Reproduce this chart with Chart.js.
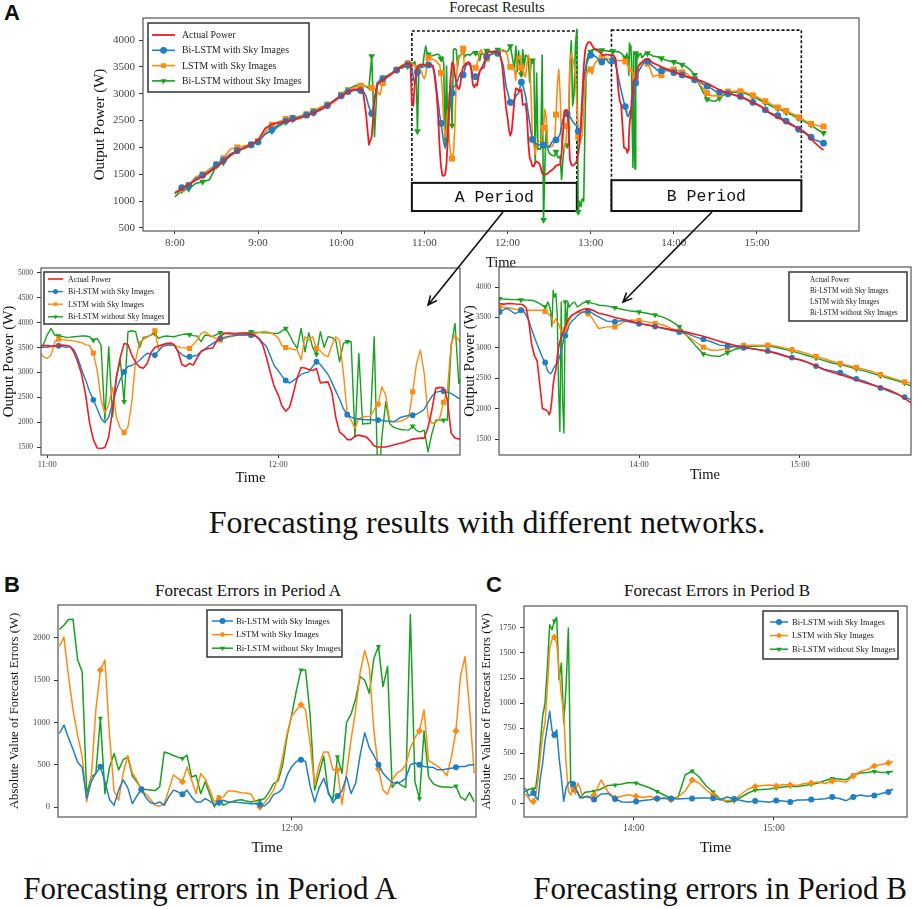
<!DOCTYPE html>
<html>
<head>
<meta charset="utf-8">
<script src="https://cdn.jsdelivr.net/npm/chart.js@4.4.1/dist/chart.umd.min.js"></script>
<style>
  html, body { margin: 0; padding: 0; background: #fff; overflow: hidden; }
  body { width: 913px; height: 909px; position: relative; font-family: 'Liberation Serif', 'Times New Roman', serif; }
  canvas { position: absolute; }
  .t { position: absolute; white-space: nowrap; color: #111; line-height: 1; }
  .c { transform: translateX(-50%); }
  .lab { position: absolute; font-family: 'Liberation Sans', Arial, sans-serif; font-weight: bold; font-size: 22px; line-height: 22px; color: #111; }
  svg { position: absolute; left: 0; top: 0; }
</style>
</head>
<body>
<div class="lab" style="left:4px;top:2px">A</div>
<div class="lab" style="left:4px;top:574px">B</div>
<div class="lab" style="left:486px;top:574px">C</div>
<div class="t c" style="left:497px;top:0px;font-size:14.5px">Forecast Results</div>
<div class="t c" style="left:487px;top:506px;font-size:32px">Forecasting results with different networks.</div>
<div class="t c" style="left:248px;top:582px;font-size:17px">Forecast Errors in Period A</div>
<div class="t c" style="left:717px;top:582px;font-size:17px">Forecast Errors in Period B</div>
<div class="t c" style="left:210px;top:873px;font-size:31px">Forecasting errors in Period A</div>
<div class="t c" style="left:720px;top:873px;font-size:31px">Forecasting errors in Period B</div>

<canvas id="top"></canvas>
<canvas id="midL"></canvas>
<canvas id="midR"></canvas>
<canvas id="errA"></canvas>
<canvas id="errB"></canvas>
<svg id="arrows" width="913" height="909"></svg>

<script>
// ---- time axis of the power forecasts ----
const times = [
  '8:00','8:05','8:10','8:15','8:20','8:25','8:30','8:35','8:40','8:45','8:50','8:55',
  '9:00','9:05','9:10','9:15','9:20','9:25','9:30','9:35','9:40','9:45','9:50','9:55',
  '10:00','10:05','10:10',
  '10:12','10:14','10:16','10:18','10:20','10:22','10:24','10:26','10:28','10:30',
  '10:32','10:34','10:36','10:38','10:40','10:42','10:44','10:46','10:48','10:50',
  '10:51','10:52','10:53','10:54','10:55','10:56','10:57','10:58','10:59',
  '11:00','11:01','11:02','11:03','11:04','11:05','11:06','11:07','11:08','11:09',
  '11:10','11:11','11:12','11:13','11:14','11:15','11:16','11:17','11:18','11:19',
  '11:20','11:21','11:22','11:23','11:24','11:25','11:26','11:27','11:28','11:29',
  '11:30','11:31','11:32','11:33','11:34','11:35','11:36','11:37','11:38','11:39',
  '11:40','11:41','11:42','11:43','11:44','11:45','11:46','11:47','11:48','11:49',
  '11:50','11:51','11:52','11:53','11:54','11:55','11:56','11:57','11:58','11:59',
  '12:00','12:01','12:02','12:03','12:04','12:05','12:06','12:07','12:08','12:09',
  '12:10','12:11','12:12','12:13','12:14','12:15','12:16','12:17','12:18','12:19',
  '12:20','12:21','12:22','12:23','12:24','12:25','12:26','12:27','12:28','12:29',
  '12:30','12:31','12:32','12:33','12:34','12:35','12:36','12:37','12:38','12:39',
  '12:40','12:41','12:42','12:43','12:44','12:45','12:46','12:47',
  '12:48','12:49','12:50','12:51','12:52','12:53','12:54','12:55','12:56','12:57',
  '12:58','12:59','13:00','13:01','13:02','13:03','13:04','13:05','13:06','13:07',
  '13:08','13:09','13:10',
  '13:11','13:12','13:13','13:14','13:15','13:16','13:17','13:18','13:19','13:20',
  '13:21','13:22','13:23','13:24',
  '13:25','13:25:30','13:26','13:26:30','13:27','13:27:30','13:28','13:28:30','13:29','13:29:30',
  '13:30','13:30:30','13:31','13:31:30','13:32','13:32:30','13:33','13:33:30','13:34',
  '13:35','13:36','13:37','13:38','13:39','13:40','13:41','13:42','13:43','13:44','13:45',
  '13:48','13:51','13:54','13:57',
  '14:00','14:03','14:06','14:09','14:12','14:15','14:18','14:21','14:24','14:27',
  '14:30','14:33','14:36','14:39','14:42','14:45','14:48','14:51','14:54','14:57',
  '15:00','15:03','15:06','15:09','15:12','15:15','15:18','15:21','15:24','15:27',
  '15:30','15:33','15:36','15:39','15:42','15:45','15:48'
];

// ---- output power (W) ----
const actualPower = [
  1150,1230,1310,1390,1460,1540,1640,1740,1850,1930,1990,2060,
  2130,2350,2430,2460,2480,2510,2545,2590,2640,2700,2770,2870,
  2950,3040,3080,
  3085,3080,3000,2600,2050,2200,2900,3160,3220,3260,
  3290,3320,3360,3400,3440,3480,3520,3540,3560,3550,
  2800,2780,3150,3400,3500,3530,3540,3540,3540,
  3540,3530,3530,3540,3550,3540,3520,3400,3200,2950,
  2550,2000,1650,1480,1470,1490,1700,2250,2900,3300,
  3580,3560,3350,3200,3110,3085,3180,3400,3500,3530,
  3560,3580,3590,3560,3420,3160,3120,3180,3150,3300,
  3420,3460,3480,3490,3620,3720,3780,3790,3785,3780,
  3790,3785,3780,3770,3750,3680,3560,3300,3000,2720,
  2560,2330,2220,2300,2580,2900,3100,3090,3060,3040,
  3080,2790,2800,2810,2600,2100,1800,1740,1650,1650,
  1720,1740,1720,1700,1620,1520,1500,1500,1500,1520,
  1540,1560,1580,1600,1630,1660,1670,1680,1680,1900,
  2250,2680,2700,2690,2450,1780,1680,1660,
  1680,1700,1750,1900,2080,2500,3000,3500,3800,3900,
  3950,3960,3950,3900,3860,3830,3810,3800,3790,3760,
  3730,3720,3720,
  3727,3727,3725,3720,3716,3716,3700,3650,3400,3050,
  2870,2790,2400,2000,
  1985,1970,1953,1900,1950,2144,2400,2550,2635,2850,
  3000,3100,3180,3236,3280,3350,3400,3454,3490,
  3540,3563,3590,3615,3630,3645,3640,3630,3615,3590,3570,
  3540,3500,3470,3440,
  3400,3380,3350,3325,3300,3280,3255,3225,3190,3150,
  3110,3070,3040,3010,2990,2965,2940,2910,2870,2830,
  2800,2760,2700,2640,2600,2560,2515,2470,2430,2390,
  2350,2310,2250,2170,2080,2010,1950
];
const biLstmSky = [
  1140,1250,1290,1420,1480,1560,1680,1760,1880,1940,2000,2050,
  2100,2240,2330,2430,2490,2540,2560,2600,2650,2720,2780,2880,
  2960,3040,3060,
  3070,3060,3050,2950,2750,2630,2850,3200,3250,3280,
  3300,3330,3370,3410,3440,3470,3510,3520,3540,3520,
  3500,3300,3193,3250,3400,3480,3500,3504,3504,
  3504,3520,3530,3537,3520,3505,3520,3450,3280,3050,
  2850,2620,2450,2270,2080,1990,2100,2380,2650,2860,
  3010,3120,3140,3190,3240,3320,3385,3370,3350,3440,
  3520,3550,3551,3550,3430,3360,3320,3316,3330,3349,
  3420,3470,3530,3580,3630,3685,3705,3725,3735,3745,
  3752,3752,3752,3752,3730,3695,3600,3520,3330,3140,
  3040,2930,2840,2785,2840,2890,2960,2990,3010,3120,
  3215,3160,3060,2960,2800,2630,2460,2270,2150,2100,
  2074,2065,2055,2050,2048,2045,2042,2035,2025,2015,
  2007,2050,2100,2120,2135,2140,2160,2200,2260,2400,
  2520,2600,2620,2625,2600,2578,2530,2480,
  2450,2420,2400,2300,2250,2350,2800,3200,3450,3550,
  3620,3680,3720,3740,3720,3700,3680,3660,3620,3590,
  3590,3610,3640,
  3645,3620,3580,3565,3590,3618,3600,3530,3440,3300,
  3180,3060,2950,2840,
  2760,2679,2620,2590,2575,2600,2650,2690,2720,2744,
  2800,2870,2950,3050,3150,3200,3250,3300,3380,
  3440,3480,3530,3563,3590,3600,3607,3590,3560,3530,3509,
  3440,3430,3450,3420,
  3395,3375,3350,3318,3290,3260,3236,3180,3140,3100,
  3045,3030,3017,3000,2985,2970,2950,2920,2880,2840,
  2810,2760,2700,2650,2620,2590,2540,2490,2450,2400,
  2340,2290,2240,2190,2140,2110,2080
];
const lstmSky = [
  1160,1220,1300,1450,1500,1600,1680,1800,1970,2000,2030,2050,
  2120,2280,2420,2480,2530,2550,2580,2620,2680,2750,2800,2850,
  2980,3060,3120,
  3140,3150,3150,3140,3130,3110,3100,3050,2980,3200,
  3280,3340,3380,3420,3450,3490,3530,3560,3570,3560,
  3560,3540,3520,3500,3480,3460,3440,3416,3316,
  3282,3349,3620,3671,3660,3651,3645,3630,3618,3600,
  3555,3545,3390,3047,2450,2190,2350,2700,2100,1880,
  1793,1900,2400,3250,3600,3665,3710,3760,3839,3450,
  3551,3551,3551,3540,3517,3500,3490,3484,3560,3651,
  3780,3819,3760,3718,3680,3651,3680,3705,3720,3740,
  3752,3752,3752,3752,3780,3800,3819,3819,3800,3760,
  3700,3540,3500,3484,3460,3450,3250,3718,3651,3718,
  3484,3430,3350,3316,3550,3718,3640,2980,2155,2041,
  1873,2074,2100,2115,2121,2250,2363,2712,2544,2041,
  2007,2010,2021,2060,2108,2611,3182,3450,2980,2108,
  1974,2000,2074,2400,2611,3584,3752,3651,
  3550,3300,2800,2200,2076,2150,2260,2700,3193,3350,
  3450,3500,3450,3367,3500,3560,3600,3620,3640,3660,
  3672,3670,3665,
  3661,3655,3645,3635,3629,3625,3620,3618,3618,3618,
  3618,3618,3618,3618,
  3600,3590,3570,3540,3520,3480,3400,3430,3481,3430,
  3400,3330,3263,3270,3280,3300,3345,3400,3454,
  3530,3563,3580,3590,3585,3570,3560,3520,3454,3380,3318,
  3345,3345,3420,3460,
  3450,3427,3400,3380,3320,3275,3200,3100,3010,2960,
  2965,2990,3030,3040,3045,3045,3045,3030,3000,2970,
  2940,2900,2860,2820,2780,2744,2710,2680,2646,2610,
  2560,2520,2480,2440,2417,2400,2390
];
const biLstmNoSky = [
  1080,1200,1230,1330,1360,1400,1660,1720,1850,1950,1980,2050,
  2120,2260,2300,2400,2470,2520,2580,2620,2640,2730,2780,2870,
  2990,3080,3150,
  3160,3150,3150,3130,3100,3700,2200,3200,3250,3300,
  3320,3350,3380,3410,3440,3470,3480,3500,3510,3560,
  3580,3550,3600,3500,2300,3400,3550,3484,3551,
  3752,3886,3752,3732,3720,3705,3710,3718,3725,3732,
  3732,3718,3651,3685,3551,2041,3517,2108,2913,3249,
  2410,3819,3839,3819,3500,3705,3718,3750,3785,3685,
  3720,3732,3725,3718,3740,3760,3772,3760,3740,3732,
  3618,3752,3740,3718,3760,3799,3790,3780,3775,3772,
  3780,3790,3800,3819,3810,3805,3799,3795,3790,3785,
  3785,3832,3886,3752,3600,3484,3886,3416,3799,3504,
  3363,3819,3504,3718,3705,3651,3215,3584,3618,3618,
  1700,3383,1960,1974,1974,3718,650,1700,2410,1974,
  1900,1870,1853,1845,1840,1920,1830,1806,1840,1404,
  1773,2041,2041,2041,2041,3517,3987,2779,
  3000,3900,4200,800,1000,900,1050,1000,2600,3600,
  3700,3750,3780,3820,3826,3830,3830,3826,3820,3815,
  3809,3805,3800,
  3800,3795,3793,3793,3790,3790,3788,3785,3783,3782,
  3770,3750,3727,3700,
  3672,3700,3754,3700,3618,3345,3945,3836,3891,3563,
  2362,1625,3754,2144,1598,3754,3345,3754,3672,
  3727,3754,3672,3700,3738,3754,3754,3740,3727,3720,3700,
  3690,3660,3630,3605,
  3590,3570,3540,3505,3440,3350,3190,3040,2900,2870,
  2860,2920,2980,3010,3025,3028,3028,3010,2980,2945,
  2910,2870,2830,2790,2750,2720,2690,2650,2620,2580,
  2540,2500,2460,2420,2362,2310,2270
];

// ---- absolute forecast errors in period A (W) ----
const errTimesA = [
  '11:09','11:10','11:11','11:12','11:13','11:14','11:15','11:16','11:17','11:18',
  '11:19','11:20','11:21','11:22','11:23','11:24','11:25','11:26','11:27','11:28',
  '11:29','11:30','11:31','11:32','11:33','11:34','11:35','11:36','11:37','11:38',
  '11:39','11:40','11:41','11:42','11:43','11:44','11:45','11:46','11:47','11:48',
  '11:49','11:50','11:51','11:52','11:53','11:54','11:55','11:56','11:57','11:58',
  '11:59','12:00','12:01','12:02','12:03','12:04','12:05','12:06','12:07','12:08',
  '12:09','12:10','12:11','12:12','12:13','12:14','12:15','12:16','12:17','12:18',
  '12:19','12:20','12:21','12:22','12:23','12:24','12:25','12:26','12:27','12:28',
  '12:29','12:30','12:31','12:32','12:33','12:34','12:35','12:36','12:37','12:38',
  '12:39','12:40'
];
const errABiSky = [
  870,970,820,680,530,470,100,300,400,475,
  300,90,20,200,320,230,40,130,210,110,
  50,40,60,20,120,200,180,150,200,120,
  60,60,100,70,30,50,80,60,60,55,
  50,45,40,40,30,15,60,150,170,220,
  380,480,540,560,540,250,60,230,340,180,
  50,130,190,360,160,280,620,880,700,610,
  500,400,340,290,280,300,340,500,520,500,
  480,470,470,440,440,450,460,470,480,480,
  500,500
];
const errALstmSky = [
  1900,2010,1550,1150,850,600,60,350,1150,1620,
  1740,850,190,80,400,610,400,320,200,150,
  90,20,10,40,200,380,340,300,470,320,
  160,396,330,200,60,99,120,190,190,180,
  170,165,155,60,0,50,120,200,350,600,
  880,1080,1148,1210,1150,750,260,500,650,650,
  440,440,30,400,800,1150,1600,1850,1650,900,
  450,200,150,320,400,430,500,700,820,900,
  1150,550,515,480,440,370,590,900,1550,1780,
  1150,400
];
const errABiNoSky = [
  2100,2150,2218,2220,1742,1600,158,356,396,1049,
  158,470,634,440,560,594,370,297,215,206,
  200,195,238,650,634,610,590,574,614,356,
  376,158,300,150,0,119,20,50,65,80,
  85,70,60,70,79,100,180,277,310,500,
  850,1100,1380,1620,1620,1100,200,400,600,158,
  90,594,400,1000,1100,1280,1544,1500,1346,1760,
  1900,1425,1663,230,300,260,230,2277,300,99,
  900,356,277,250,238,238,230,250,119,80,
  170,60
];

// ---- absolute forecast errors in period B (W) ----
const errTimesB = [
  '13:12','13:13','13:14','13:15','13:16','13:17','13:18','13:19','13:20','13:21',
  '13:22','13:23','13:24','13:25','13:26','13:27','13:28','13:29','13:30','13:31',
  '13:32','13:33','13:34','13:35','13:36','13:37','13:38','13:39','13:40',
  '13:43','13:46','13:49','13:52','13:55','13:58',
  '14:01','14:04','14:07','14:10','14:13','14:16','14:19','14:22','14:25','14:28',
  '14:31','14:34','14:37','14:40','14:43','14:46','14:49','14:52','14:55','14:58',
  '15:01','15:04','15:07','15:10','15:13','15:16','15:19','15:22','15:25','15:28',
  '15:31','15:34','15:37','15:40','15:43','15:46','15:49','15:51'
];
const errBBiSky = [
  170,150,130,70,83,100,60,30,250,400,
  620,767,917,727,680,733,460,250,17,150,
  200,217,190,150,100,60,50,60,67,
  35,90,95,40,10,7,
  15,25,33,45,48,45,40,45,45,50,
  50,48,33,60,40,25,10,20,15,8,
  25,20,10,30,30,35,38,43,60,45,
  23,60,80,67,75,95,110,140
];
const errBLstmSky = [
  100,90,83,50,10,15,60,230,467,680,
  800,1150,1550,1633,1660,1600,1330,1080,900,400,
  120,80,160,90,200,150,60,60,55,
  80,230,110,50,70,83,
  67,55,67,40,50,30,60,120,230,200,
  130,80,33,25,30,90,140,165,175,180,
  170,185,180,175,195,200,210,195,220,220,
  207,270,315,335,370,385,400,417
];
const errBBiNoSky = [
  100,110,120,135,140,140,150,330,600,867,
  1000,1350,1783,1733,1820,1857,1233,1400,800,1150,
  1750,200,130,110,115,50,80,105,110,
  117,140,175,180,190,205,
  200,175,150,115,80,45,60,280,320,260,
  170,110,40,10,20,60,100,130,135,140,
  150,160,167,165,175,185,200,225,245,240,
  233,280,300,305,315,305,305,317
];

// ---- tick labels ----
const topTimeTicks = ['8:00','9:00','10:00','11:00','12:00','13:00','14:00','15:00'];
const midLTimeTicks = ['11:00','12:00'];
const midRTimeTicks = ['14:00','15:00'];
const errATimeTicks = ['12:00'];
const errBTimeTicks = ['14:00','15:00'];
const topPowerTicks = [500,1000,1500,2000,2500,3000,3500,4000];
const midLPowerTicks = [1500,2000,2500,3000,3500,4000,4500,5000];
const midRPowerTicks = [1500,2000,2500,3000,3500,4000];
const errATicks = [0,500,1000,1500,2000];
const errBTicks = [0,250,500,750,1000,1250,1500,1750];

const periods = [
  {text: 'A Period', from: '10:51', to: '12:50', top: 4168, labelTop: 1340, bottom: 816},
  {text: 'B Period', from: '13:15', to: '15:32', top: 4185, labelTop: 1390, bottom: 816}
];

[[times, actualPower], [times, biLstmSky], [times, lstmSky], [times, biLstmNoSky],
 [errTimesA, errABiSky], [errTimesA, errALstmSky], [errTimesA, errABiNoSky],
 [errTimesB, errBBiSky], [errTimesB, errBLstmSky], [errTimesB, errBBiNoSky]].forEach((p, i) => {
  if (p[0].length !== p[1].length) console.error('length mismatch', i, p[0].length, p[1].length);
});

const SERIF = "'Liberation Serif', 'Times New Roman', serif";
const RED = '#ee1c24', BLUE = '#1f7fc2', ORANGE = '#ff8a12', GREEN = '#16a11e';

function toMin(s) {
  const p = s.split(':').map(Number);
  return p[0] * 60 + p[1] + (p[2] || 0) / 60;
}
function clock(m) {
  const h = Math.floor(m / 60);
  return h + ':' + String(Math.round(m - h * 60)).padStart(2, '0');
}
function pts(ts, vs) { return ts.map((t, i) => ({x: toMin(t), y: vs[i]})); }
function flags(ts, phase, every) {
  let prev = null;
  return ts.map((t, i) => {
    const k = Math.floor((toMin(t) - toMin(phase)) / every);
    const f = i > 0 && k !== prev;
    prev = k;
    return f;
  });
}

function markerPath(ctx, style, x, y, r, rot) {
  ctx.beginPath();
  if (style === 'circle') ctx.arc(x, y, r, 0, Math.PI * 2);
  else if (style === 'rect') { const s = r * Math.SQRT1_2; ctx.rect(x - s, y - s, 2 * s, 2 * s); }
  else if (style === 'rectRot') { ctx.moveTo(x, y - r); ctx.lineTo(x + r, y); ctx.lineTo(x, y + r); ctx.lineTo(x - r, y); ctx.closePath(); }
  else if (style === 'triangle') {
    const d = rot ? 1 : -1;
    ctx.moveTo(x, y + d * r); ctx.lineTo(x - r * 0.866, y - d * r * 0.5); ctx.lineTo(x + r * 0.866, y - d * r * 0.5); ctx.closePath();
  }
}

// plot frame
const frame = {
  id: 'frame',
  afterDatasetsDraw(chart) {
    const {ctx, chartArea: a} = chart;
    ctx.save();
    ctx.strokeStyle = '#555';
    ctx.lineWidth = 1.2;
    ctx.strokeRect(a.left, a.top, a.right - a.left, a.bottom - a.top);
    ctx.restore();
  }
};

// dashed period boxes on the overview chart
const periodBoxes = {
  id: 'periodBoxes',
  beforeDatasetsDraw(chart, args, o) {
    if (!o.items) return;
    const {ctx, scales: {x, y}} = chart;
    ctx.save();
    o.items.forEach(p => {
      const x0 = x.getPixelForValue(toMin(p.from)), x1 = x.getPixelForValue(toMin(p.to));
      const yt = y.getPixelForValue(p.top), yl = y.getPixelForValue(p.labelTop), yb = y.getPixelForValue(p.bottom);
      ctx.strokeStyle = '#111';
      ctx.setLineDash([3, 2]);
      ctx.lineWidth = 1.6;
      ctx.strokeRect(x0, yt, x1 - x0, yb - yt);
      ctx.setLineDash([]);
      ctx.fillStyle = '#fff';
      ctx.fillRect(x0, yl, x1 - x0, yb - yl);
      ctx.lineWidth = 2;
      ctx.strokeRect(x0, yl, x1 - x0, yb - yl);
      ctx.fillStyle = '#111';
      ctx.font = "16.5px 'Liberation Mono', 'DejaVu Sans Mono', monospace";
      ctx.textAlign = 'center';
      ctx.textBaseline = 'middle';
      ctx.fillText(p.text, (x0 + x1) / 2, (yl + yb) / 2 + 1);
    });
    ctx.restore();
  }
};

// framed legend drawn inside the plot
const boxLegend = {
  id: 'boxLegend',
  afterDatasetsDraw(chart, args, o) {
    if (!o.rect) return;
    const ctx = chart.ctx;
    const [px, py, w, h] = o.rect;
    const x = px - o.origin[0], y = py - o.origin[1];
    ctx.save();
    ctx.fillStyle = '#fff';
    ctx.fillRect(x, y, w, h);
    ctx.strokeStyle = '#333';
    ctx.lineWidth = 1.5;
    ctx.strokeRect(x, y, w, h);
    ctx.font = o.font;
    ctx.textBaseline = 'middle';
    ctx.textAlign = 'left';
    chart.data.datasets.forEach((ds, i) => {
      const ry = y + o.row0 + i * o.gap;
      if (o.handles) {
        ctx.strokeStyle = ds.borderColor;
        ctx.lineWidth = ds.borderWidth;
        ctx.beginPath();
        ctx.moveTo(x + o.line[0], ry);
        ctx.lineTo(x + o.line[1], ry);
        ctx.stroke();
        if (ds.legendMarker) {
          ctx.fillStyle = ds.borderColor;
          markerPath(ctx, ds.pointStyle, x + (o.line[0] + o.line[1]) / 2, ry, o.markerR, ds.pointRotation);
          ctx.fill();
        }
      }
      ctx.fillStyle = '#1a1a1a';
      ctx.fillText(ds.label, x + o.textX, ry + 0.5);
    });
    ctx.restore();
  }
};

function series(label, ts, vals, color, style, lw, r, mk, rot) {
  const ds = {
    label, data: pts(ts, vals), borderColor: color, backgroundColor: color,
    borderWidth: lw, pointBorderWidth: 0, pointBackgroundColor: color,
    pointHoverRadius: 0, pointHitRadius: 0
  };
  if (style) {
    ds.pointStyle = style;
    ds.pointRotation = rot || 0;
    ds.pointRadius = ctx => mk[ctx.dataIndex] ? r : 0;
    ds.legendMarker = true;
  } else {
    ds.pointRadius = 0;
  }
  return ds;
}

function powerSets(lw, r) {
  const mk = flags(times, '11:03', 8.3);
  return [
    series('Actual Power', times, actualPower, RED, null, lw + 0.2),
    series('Bi-LSTM with Sky Images', times, biLstmSky, BLUE, 'circle', lw, r, mk),
    series('LSTM with Sky Images', times, lstmSky, ORANGE, 'rect', lw, r * 1.25, mk),
    series('Bi-LSTM without Sky Images', times, biLstmNoSky, GREEN, 'triangle', lw, r * 1.15, mk, 180)
  ];
}
function errorSets(ts, a, b, c, phase, every, lw, r) {
  const mk = flags(ts, phase, every);
  return [
    series('Bi-LSTM with Sky Images', ts, a, BLUE, 'circle', lw, r, mk),
    series('LSTM with Sky Images', ts, b, ORANGE, 'rectRot', lw, r * 1.2, mk),
    series('Bi-LSTM without Sky Images', ts, c, GREEN, 'triangle', lw, r, mk, 180)
  ];
}

function panel(id, p, datasets, ax) {
  const cv = document.getElementById(id);
  const W = p.w + p.l + p.r, H = p.h + p.t + p.b;
  cv.width = W; cv.height = H;
  cv.style.left = (p.x - p.l) + 'px';
  cv.style.top = (p.y - p.t) + 'px';
  const tickGrid = {drawOnChartArea: false, drawTicks: true, tickLength: 3, tickColor: '#333', tickWidth: 1};
  const legend = Object.assign({origin: [p.x - p.l, p.y - p.t]}, ax.legend);
  return new Chart(cv, {
    type: 'line',
    data: {datasets},
    plugins: [periodBoxes, frame, boxLegend],
    options: {
      responsive: false, animation: false, devicePixelRatio: 1, normalized: true,
      layout: {padding: {top: p.t, right: p.r, left: 0, bottom: 0}},
      plugins: {
        legend: {display: false}, tooltip: {enabled: false},
        boxLegend: legend,
        periodBoxes: {items: ax.periods || null}
      },
      elements: {line: {tension: 0, borderJoinStyle: 'round'}},
      scales: {
        x: {
          type: 'linear', bounds: 'data', min: ax.xMin, max: ax.xMax,
          afterBuildTicks: s => { s.ticks = ax.xTicks.map(t => ({value: toMin(t)})); },
          afterFit: s => { s.height = p.b; },
          grid: tickGrid, border: {display: false},
          ticks: {font: {family: SERIF, size: ax.xTickSize}, color: '#444', padding: ax.xPad, maxRotation: 0, autoSkip: false, callback: v => clock(v)},
          title: {display: true, text: 'Time', color: '#111', padding: 0, font: {family: SERIF, size: ax.xTitleSize}}
        },
        y: {
          type: 'linear', bounds: 'data', min: ax.yMin, max: ax.yMax,
          afterBuildTicks: s => { s.ticks = ax.yTicks.map(v => ({value: v})); },
          afterFit: s => { s.width = p.l; },
          grid: Object.assign({}, tickGrid, {tickLength: 4}), border: {display: false},
          ticks: {font: {family: SERIF, size: ax.yTickSize}, color: '#444', padding: 4, autoSkip: false, callback: v => String(v)},
          title: {display: true, text: ax.yTitle, color: '#111', padding: 0, font: {family: SERIF, size: ax.yTitleSize}}
        }
      }
    }
  });
}

panel('top', {x: 143, y: 18, w: 716, h: 213, l: 52, t: 12, r: 15, b: 41}, powerSets(1.6, 3.4), {
  xMin: 457, xMax: 973.6, xTicks: topTimeTicks, xTickSize: 11, xPad: 3, xTitleSize: 14.5,
  yMin: 444, yMax: 4410, yTicks: topPowerTicks, yTickSize: 11, yTitle: 'Output Power (W)', yTitleSize: 15,
  periods,
  legend: {rect: [148, 23, 161, 69], row0: 12, gap: 15.3, line: [4, 27], textX: 34, font: "9.8px " + SERIF, handles: true, markerR: 3.4}
});
panel('midL', {x: 41, y: 268, w: 419, h: 187, l: 41, t: 12, r: 15, b: 32}, powerSets(1.4, 2.9), {
  xMin: 658.4, xMax: 767.3, xTicks: midLTimeTicks, xTickSize: 8.5, xPad: 2, xTitleSize: 14.5,
  yMin: 1340, yMax: 5100, yTicks: midLPowerTicks, yTickSize: 7.5, yTitle: 'Output Power (W)', yTitleSize: 15,
  legend: {rect: [44, 272, 125, 52], row0: 7, gap: 12.6, line: [4, 19], textX: 24, font: "7.9px " + SERIF, handles: true, markerR: 2.5}
});
panel('midR', {x: 499, y: 267, w: 412, h: 188, l: 38, t: 12, r: 15, b: 29}, powerSets(1.4, 2.9), {
  xMin: 787.8, xMax: 941.4, xTicks: midRTimeTicks, xTickSize: 8.5, xPad: 2, xTitleSize: 14.5,
  yMin: 1237, yMax: 4330, yTicks: midRPowerTicks, yTickSize: 7.5, yTitle: 'Output Power (W)', yTitleSize: 15,
  legend: {rect: [789, 272, 118, 49], row0: 8, gap: 11, line: [4, 18], textX: 21, font: "7.2px " + SERIF, handles: false}
});
panel('errA', {x: 58, y: 605, w: 418, h: 212, l: 51, t: 12, r: 15, b: 40},
  errorSets(errTimesA, errABiSky, errALstmSky, errABiNoSky, '11:09', 8.7, 1.5, 3), {
  xMin: 668.7, xMax: 760.4, xTicks: errATimeTicks, xTickSize: 9.5, xPad: 3, xTitleSize: 15,
  yMin: -118, yMax: 2390, yTicks: errATicks, yTickSize: 8.5, yTitle: 'Absolute Value of Forecast Errors (W)', yTitleSize: 12.7,
  legend: {rect: [207, 610, 135, 47], row0: 11, gap: 13.6, line: [5, 26], textX: 29, font: "8.6px " + SERIF, handles: true, markerR: 3}
});
panel('errB', {x: 524, y: 606, w: 383, h: 211, l: 45, t: 12, r: 15, b: 40},
  errorSets(errTimesB, errBBiSky, errBLstmSky, errBBiNoSky, '13:08:15', 8.45, 1.5, 3), {
  xMin: 793, xMax: 957, xTicks: errBTimeTicks, xTickSize: 9.5, xPad: 3, xTitleSize: 15,
  yMin: -140, yMax: 1970, yTicks: errBTicks, yTickSize: 8.5, yTitle: 'Absolute Value of Forecast Errors (W)', yTitleSize: 12.7,
  legend: {rect: [763, 611, 135, 48], row0: 11, gap: 13.6, line: [7, 25], textX: 29, font: "8.5px " + SERIF, handles: true, markerR: 3}
});

// arrows from the period boxes to the zoomed panels
const svg = document.getElementById('arrows');
[[503, 212, 428, 305], [712, 212, 623, 302]].forEach(([x0, y0, x1, y1]) => {
  const a = Math.atan2(y1 - y0, x1 - x0), L = 10, s = 0.42;
  const h1 = [x1 - L * Math.cos(a - s), y1 - L * Math.sin(a - s)];
  const h2 = [x1 - L * Math.cos(a + s), y1 - L * Math.sin(a + s)];
  const path = document.createElementNS('http://www.w3.org/2000/svg', 'path');
  path.setAttribute('d', `M${x0},${y0} L${x1},${y1} M${h1[0]},${h1[1]} L${x1},${y1} L${h2[0]},${h2[1]}`);
  path.setAttribute('stroke', '#111');
  path.setAttribute('stroke-width', '1.6');
  path.setAttribute('fill', 'none');
  svg.appendChild(path);
});
</script>
</body>
</html>
